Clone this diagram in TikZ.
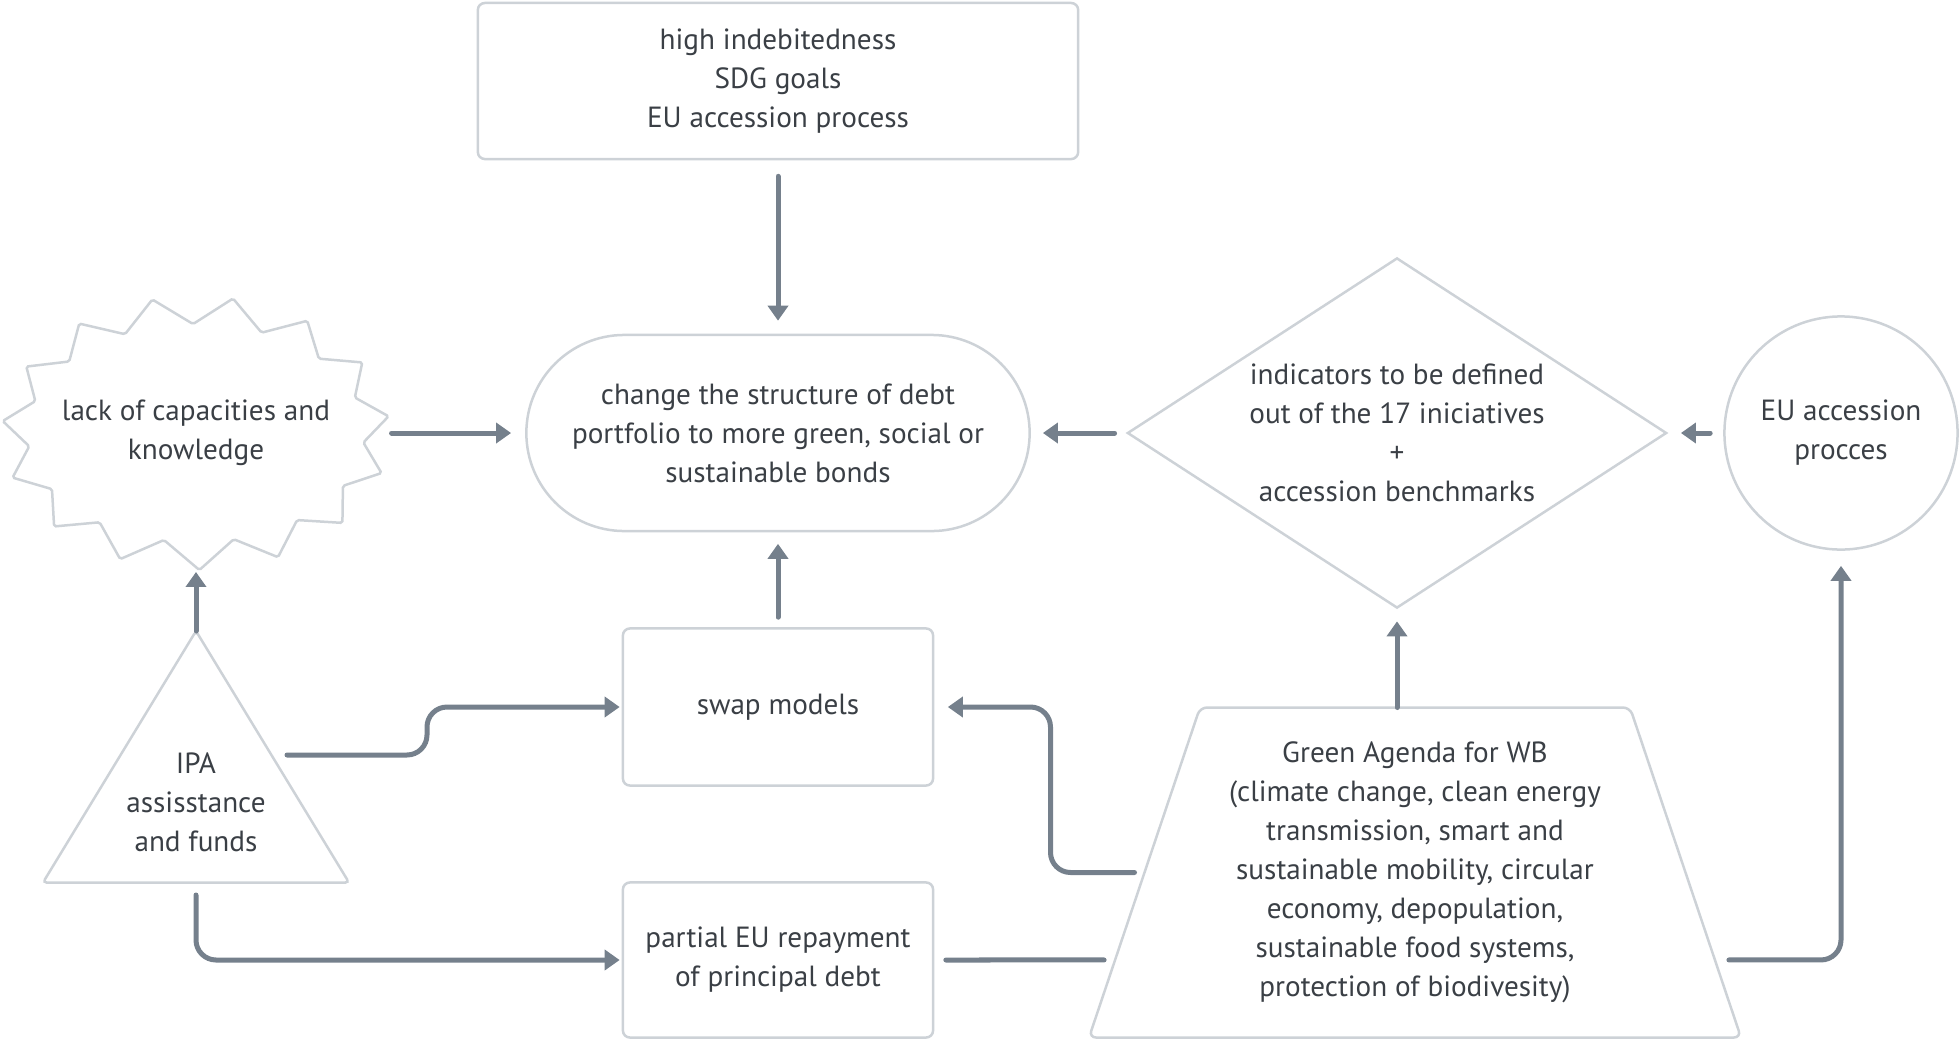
\documentclass[tikz,border=0pt]{standalone}
\usepackage{fontspec}
\setmainfont{PT Sans}
\usetikzlibrary{arrows.meta,shapes.geometric,calc}
\definecolor{edgegray}{HTML}{CDD2D7}
\definecolor{linkgray}{HTML}{75808C}
\definecolor{textgray}{HTML}{3A3F45}
\begin{document}
\begin{tikzpicture}[x=0.01cm,y=-0.01cm,
  box/.style={draw=edgegray,line width=0.025cm,text=textgray,align=center,
    font=\fontsize{8.3}{11.1}\selectfont,inner sep=0pt},
  link/.style={draw=linkgray,line width=0.05cm,line cap=round,rounded corners=0.2cm,
    -{Triangle[length=0.15cm,width=0.2cm]}}]
\useasboundingbox (0,0) rectangle (1960,1042);
% top row
\node [box,rounded corners=2pt,minimum width=6cm,minimum height=1.56cm] (facts) at (778,81)
  {high indebitedness\\SDG goals\\EU accession process};
\node [box,rounded corners=0.98cm,minimum width=5.03cm,minimum height=1.96cm] (debt) at (778,433)
  {change the structure of debt\\portfolio to more green, social or\\sustainable bonds};
\node [box,draw=none] (lack) at (196,433) {lack of capacities and\\knowledge};
\begin{scope}[shift={(lack)}]
\draw [box,rounded corners=0.5pt] (-103:194 and 137) coordinate (lack p0)
  \foreach \k in {1,...,14} {
    -- ({24*\k-115}:168 and 109) -- ({24*\k-103}:194 and 137) coordinate (lack p\k)
  } -- (245:168 and 109) -- cycle;
\end{scope}
\node [box,diamond,aspect=1.54,minimum width=5.39cm,minimum height=3.5cm] (indic) at (1397,433)
  {indicators to be defined\\out of the 17 iniciatives\\+\\accession benchmarks};
\node [box,circle,minimum size=2.33cm] (eu) at (1841,433) {EU accession\\procces};
% bottom rows
\node [box,rounded corners=2pt,minimum width=3.1cm,minimum height=1.57cm] (swap) at (778,707)
  {swap models};
\node [box,rounded corners=2pt,minimum width=3.1cm,minimum height=1.55cm] (repay) at (778,960)
  {partial EU repayment\\of principal debt};
\node [box,draw=none] (agenda) at (1415,872.5)
  {Green Agenda for WB\\(climate change, clean energy\\transmission, smart and\\
   sustainable mobility, circular\\economy, depopulation,\\sustainable food systems,\\
   protection of biodivesity)};
\draw [box,rounded corners=2pt] (1200,707.5) coordinate (agenda tl) -- (1630,707.5) coordinate (agenda tr)
  -- (1741,1037.5) coordinate (agenda br) -- (1089,1037.5) coordinate (agenda bl) -- cycle;
\node [box,draw=none] (ipa) at (196,802) {IPA\\assisstance\\and funds};
\draw [box,rounded corners=1pt] (196,631) coordinate (ipa top) -- (349,882.5) -- (43,882.5) -- cycle;
\coordinate (ipa right) at (287,755);
\coordinate (ipa bottom) at (196,895);
\coordinate (agenda w) at ($(agenda bl)!0.5!(agenda tl)$);
\coordinate (agenda lo) at ($(agenda bl)!0.235!(agenda tl)$);
\coordinate (agenda ro) at ($(agenda br)!0.235!(agenda tr)$);
% connectors
\draw [link,shorten <=0.16cm,shorten >=0.13cm] (facts) -- (debt);
\draw [link,shorten <=0.03cm,shorten >=0.14cm] (lack p4 |- lack) -- (debt.west);
\draw [link,shorten <=0.115cm,shorten >=0.12cm] (indic) -- (debt);
\draw [link,shorten <=0.13cm,shorten >=0.13cm] (eu) -- (indic);
\draw [link,shorten <=0.1cm,shorten >=0.115cm] (swap) -- (debt);
\draw [link,shorten >=0.02cm] (ipa top) -- (ipa top |- lack p8);
\draw [link,shorten >=0.02cm] (ipa right) -- (427,755) |- (swap.west);
\draw [link,shorten >=0.02cm] (ipa bottom) |- (repay.west);
\draw [link,-,shorten <=0.115cm,shorten >=0.11cm] (repay.east) -- (agenda lo);
\draw [link,shorten <=0.1cm,shorten >=0.135cm] (agenda w) -- ++(-94,0) |- (swap.east);
\draw [link,shorten >=0.12cm] (indic |- agenda tl) -- (indic.south);
\draw [link,shorten <=0.14cm,shorten >=0.15cm] (agenda ro) -| (eu.south);
\end{tikzpicture}
\end{document}
